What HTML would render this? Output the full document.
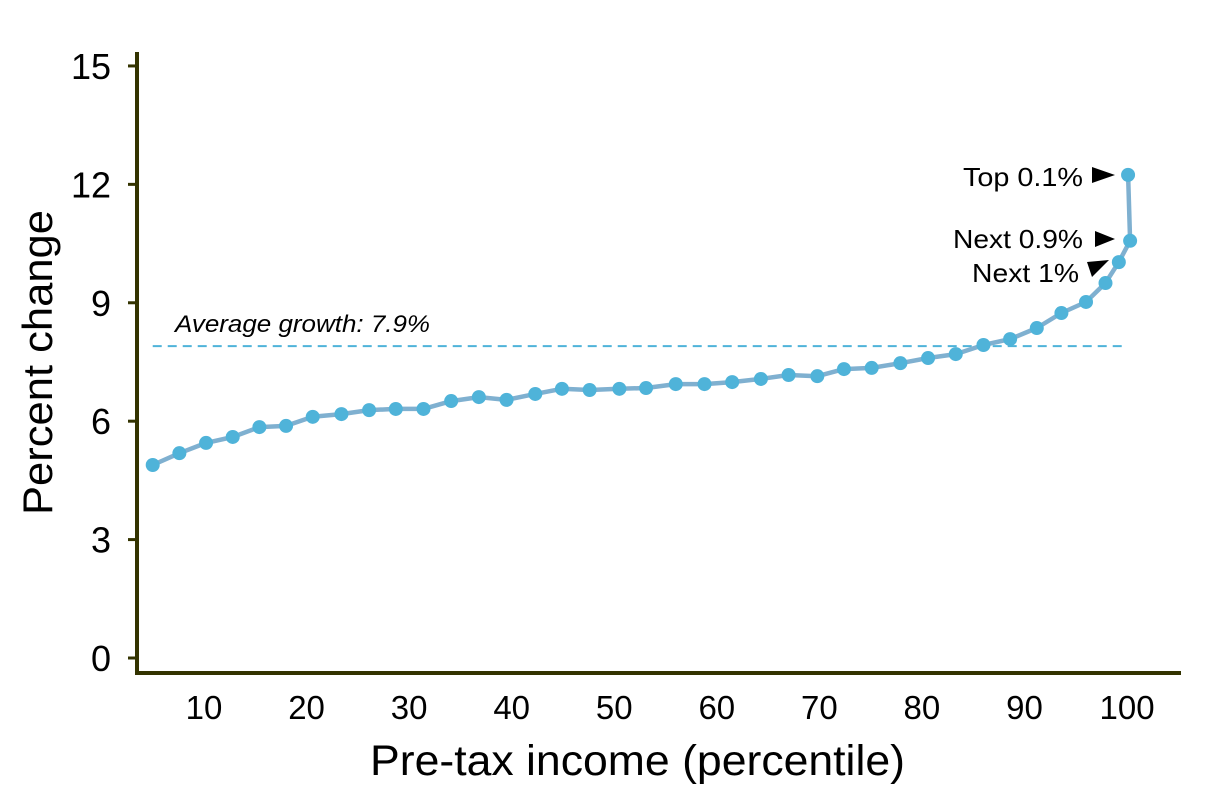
<!DOCTYPE html>
<html><head><meta charset="utf-8"><style>
body{margin:0;background:#fff;}
svg text{font-family:"Liberation Sans",sans-serif;fill:#000;}
</style></head><body>
<svg id="chart" width="1205" height="800" viewBox="0 0 1205 800" xmlns="http://www.w3.org/2000/svg">
<g id="axes"></g>
<g id="marks"></g>
</svg>
<script>
const percentiles=[5.0,7.6,10.2,12.8,15.4,18.0,20.6,23.4,26.1,28.7,31.4,34.1,36.8,39.5,42.3,44.9,47.6,50.5,53.1,56.0,58.8,61.5,64.3,67.0,69.8,72.4,75.1,77.9,80.6,83.3,86.0,88.6,91.2,93.6,96.0,97.9,99.2,100.3,100.1];
const growth=[4.89,5.19,5.45,5.60,5.85,5.88,6.11,6.18,6.28,6.31,6.31,6.51,6.61,6.54,6.69,6.82,6.79,6.82,6.84,6.94,6.94,6.99,7.07,7.17,7.14,7.32,7.35,7.47,7.60,7.70,7.93,8.08,8.36,8.74,9.02,9.50,10.03,10.57,12.24];
const averageGrowth=[7.9];
const yTicks=[0,3,6,9,12,15];
const xTicks=[10,20,30,40,50,60,70,80,90,100];
const NS="http://www.w3.org/2000/svg";
function X(v){return 204+(v-10)*10.256;}
function Y(v){return 658-v*39.47;}
function mk(tag,attrs,parent,text){const e=document.createElementNS(NS,tag);for(const k in attrs)e.setAttribute(k,attrs[k]);if(text!==undefined)e.textContent=text;parent.appendChild(e);return e;}
const ax=document.getElementById('axes'),mg=document.getElementById('marks');
let e;
e=mk('line',{x1:137,y1:52,x2:137,y2:675,stroke:'#333300','stroke-width':4},ax);


e=mk('line',{x1:135,y1:673,x2:1181,y2:673,stroke:'#333300','stroke-width':4},ax);


yTicks.forEach(t=>{
 e=mk('line',{x1:128,y1:Y(t),x2:137,y2:Y(t),stroke:'#333300','stroke-width':3},ax);
 
 
 e=mk('text',{x:111,y:Y(t)+13,'text-anchor':'end','font-size':36},ax,String(t));
 
 
});
xTicks.forEach(t=>{
 e=mk('text',{x:X(t),y:719,'text-anchor':'middle','font-size':33},ax,String(t));
 
 
});
e=mk('text',{x:370,y:775,'font-size':43,textLength:535,lengthAdjust:'spacingAndGlyphs'},ax,'Pre-tax income (percentile)');


e=mk('text',{x:0,y:0,'font-size':42,textLength:305,lengthAdjust:'spacingAndGlyphs',transform:'translate(52,515) rotate(-90)'},ax,'Percent change');


// average line
e=mk('line',{x1:X(percentiles[0]),y1:Y(averageGrowth[0]),x2:X(100),y2:Y(averageGrowth[0]),stroke:'#4fb3d9','stroke-width':2,'stroke-dasharray':'9,6'},mg);


e=mk('text',{x:175,y:Y(averageGrowth[0])-14,'font-size':24,'font-style':'italic',fill:'#222',textLength:255,lengthAdjust:'spacingAndGlyphs'},mg,'Average growth: '+averageGrowth[0]+'%');


// series line
const pts=percentiles.map((p,i)=>X(p).toFixed(1)+','+Y(growth[i]).toFixed(1)).join(' ');
e=mk('polyline',{points:pts,fill:'none',stroke:'#7fb0d0','stroke-width':4.5,'stroke-linejoin':'round'},mg);


percentiles.forEach((p,i)=>{
 e=mk('circle',{cx:X(p),cy:Y(growth[i]),r:7,fill:'#4fb3d9'},mg);
 
 
});
// annotations
e=mk('text',{x:963,y:186,'font-size':26,textLength:120,lengthAdjust:'spacingAndGlyphs'},mg,'Top 0.1%');


e=mk('polygon',{points:'1092,167 1115,175 1092,183',fill:'#000'},mg);


e=mk('text',{x:953,y:248,'font-size':26,textLength:130,lengthAdjust:'spacingAndGlyphs'},mg,'Next 0.9%');


e=mk('polygon',{points:'1095,231 1115,239 1095,247',fill:'#000'},mg);


e=mk('text',{x:972,y:282,'font-size':26,textLength:107,lengthAdjust:'spacingAndGlyphs'},mg,'Next 1%');


e=mk('polygon',{points:'1087,262 1109,260 1092,277',fill:'#000'},mg);


</script>
</body></html>
